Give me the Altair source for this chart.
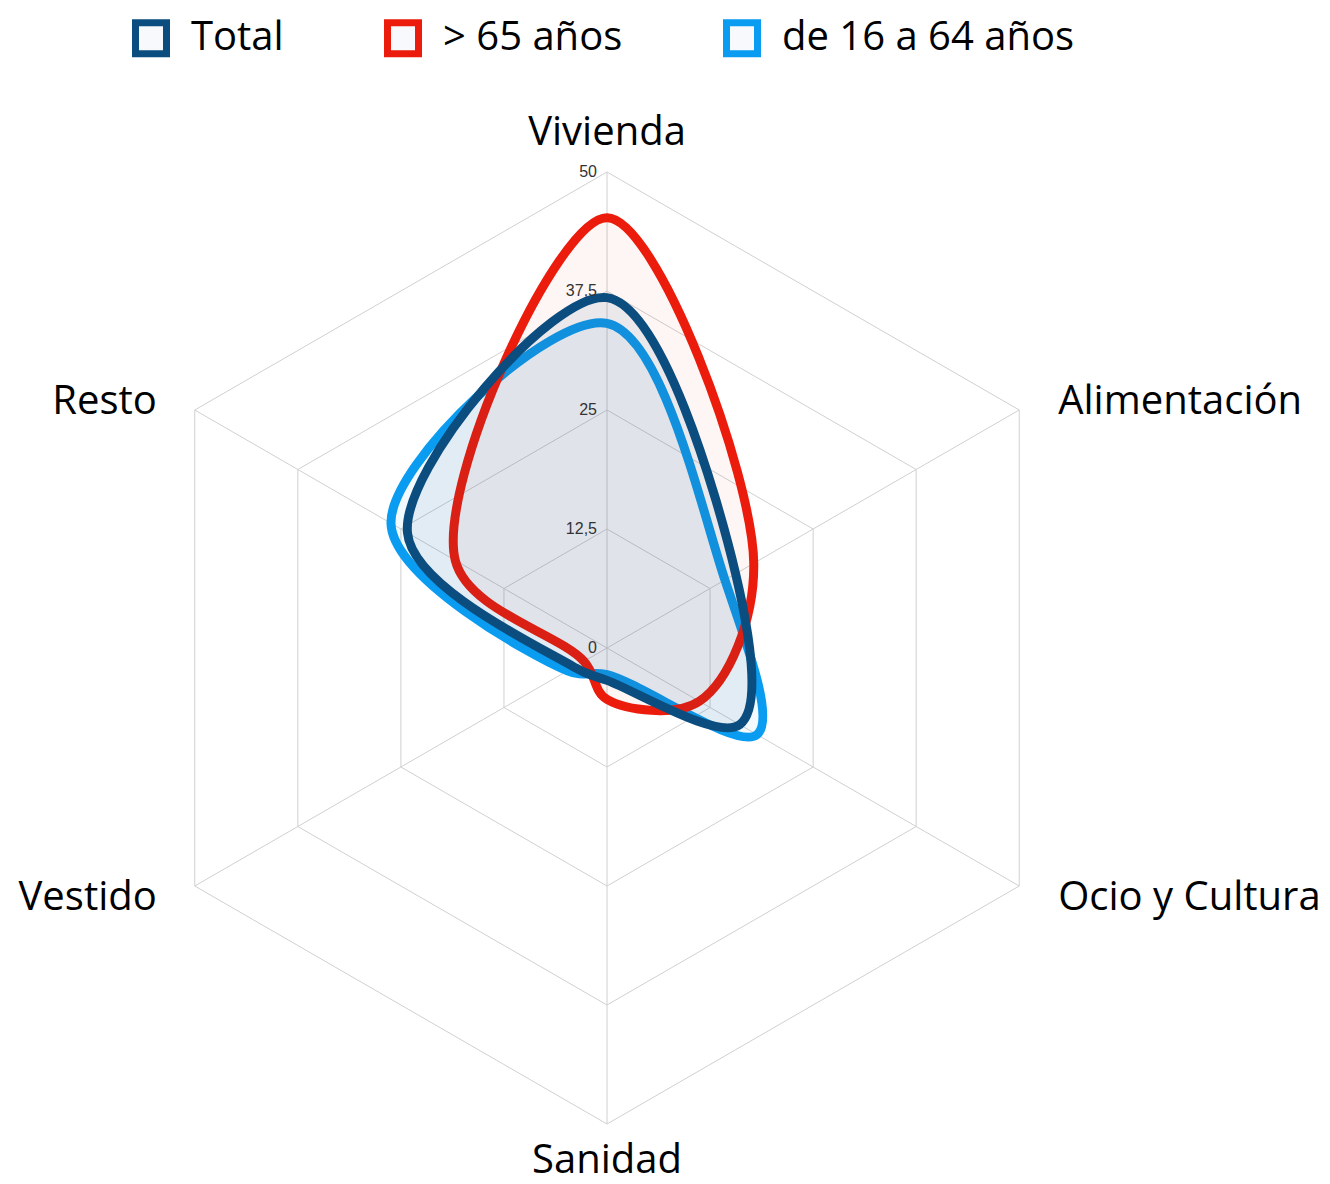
import altair as alt
import pandas as pd

# ---- data ----
categories = ["Vivienda", "Alimentación", "Ocio y Cultura", "Sanidad", "Vestido", "Resto"]
series_names = ["Total", "> 65 años", "de 16 a 64 años"]
total = [36.8, 15.6, 16.1, 3.4, 4.0, 24.2]
mayores_65 = [45.2, 17.8, 11.2, 5.4, 2.8, 18.4]
de_16_a_64 = [34.1, 14.3, 18.2, 2.8, 4.8, 26.2]
tick_values = [0, 12.5, 25, 37.5, 50]
tick_labels = ["0", "12,5", "25", "37,5", "50"]
ring_levels = [12.5, 25, 37.5, 50]

# ---- styles ----
colors = ["#0b4d7e", "#ec1c0c", "#0a9cf0"]
fill_opacity = {"Total": 0.08, "> 65 años": 0.04, "de 16 a 64 años": 0.05}
draw_order = ["de 16 a 64 años", "> 65 años", "Total"]
GRID = "#d0d0d0"
FONT = "Open Sans"
CURVE = alt.ExprRef(expr="'catmull-rom-closed'")

series_values = {"Total": total, "> 65 años": mayores_65, "de 16 a 64 años": de_16_a_64}
rows = []
for s in series_names:
    for i, c in enumerate(categories):
        rows.append({"serie": s, "cat": c, "idx": i, "value": series_values[s][i]})
df = pd.DataFrame(rows)

ring_df = pd.DataFrame([{"level": l, "idx": i} for l in ring_levels for i in range(len(categories))])
spoke_df = pd.DataFrame({"idx": list(range(len(categories))), "cat": categories})
tick_df = pd.DataFrame({"value": tick_values, "label": tick_labels})

xs = alt.Scale(domain=[-50, 50], range=[123, 1075], nice=False, zero=False)
ys = alt.Scale(domain=[-50, 50], range=[1116, 164], nice=False, zero=False)

def X(f):
    return alt.X(f, type="quantitative", scale=xs, axis=None)

def Y(f):
    return alt.Y(f, type="quantitative", scale=ys, axis=None)

rings = alt.Chart(ring_df).transform_calculate(
    px="datum.level * sin(datum.idx * PI / 3)",
    py="datum.level * cos(datum.idx * PI / 3)",
).mark_line(interpolate="linear-closed", color=GRID, strokeWidth=1).encode(
    x=X("px"), y=Y("py"), detail="level:N", order="idx:Q"
)

spokes = alt.Chart(spoke_df).transform_calculate(
    x0="0", y0="0",
    x1="50 * sin(datum.idx * PI / 3)",
    y1="50 * cos(datum.idx * PI / 3)",
).mark_rule(color=GRID, strokeWidth=1).encode(
    x=X("x0"), y=Y("y0"), x2="x1:Q", y2="y1:Q"
)

ticks = alt.Chart(tick_df).transform_calculate(x0="0").mark_text(
    align="right", baseline="middle", dx=-10, fontSize=16, font="Liberation Sans", color="#333333"
).encode(x=X("x0"), y=Y("value"), text="label:N")

legend = alt.Legend(
    orient="none", legendX=123, legendY=10, direction="horizontal", title=None,
    symbolType="square", symbolSize=961, symbolStrokeWidth=7, symbolFillColor="#f7f9fc",
    labelFontSize=40, labelFont=FONT, labelColor="#000000", labelOffset=20,
    columnPadding=89, padding=0, labelLimit=0, symbolOpacity=1,
)

series_layers = []
for s in draw_order:
    col = colors[series_names.index(s)]
    base = alt.Chart(df).transform_filter(
        alt.datum.serie == s
    ).transform_calculate(
        px="datum.value * sin(datum.idx * PI / 3)",
        py="datum.value * cos(datum.idx * PI / 3)",
    )
    fill_layer = base.mark_line(
        interpolate=CURVE, strokeWidth=0, strokeOpacity=0,
        fill=col, fillOpacity=fill_opacity[s],
    ).encode(x=X("px"), y=Y("py"), order="idx:Q")
    line_layer = base.mark_line(
        interpolate=CURVE, strokeWidth=9, strokeJoin="round", strokeCap="round",
    ).encode(
        x=X("px"), y=Y("py"),
        stroke=alt.Stroke("serie:N", scale=alt.Scale(domain=series_names, range=colors), legend=legend),
        order="idx:Q",
    )
    series_layers += [fill_layer, line_layer]

label_style = {
    "Vivienda": ("center", 0, -27),
    "Alimentación": ("left", 39, 4),
    "Ocio y Cultura": ("left", 39, 24),
    "Sanidad": ("center", 0, 49),
    "Vestido": ("right", -38, 24),
    "Resto": ("right", -38, 4),
}
label_layers = []
for i, c in enumerate(categories):
    al, dx, dy = label_style[c]
    lab = alt.Chart(spoke_df).transform_filter(alt.datum.cat == c).transform_calculate(
        px="50 * sin(datum.idx * PI / 3)",
        py="50 * cos(datum.idx * PI / 3)",
    ).mark_text(
        align=al, baseline="alphabetic", dx=dx, dy=dy, fontSize=40, font=FONT, color="#000000"
    ).encode(x=X("px"), y=Y("py"), text="cat:N")
    label_layers.append(lab)

chart = alt.layer(rings, spokes, *series_layers, ticks, *label_layers).properties(
    width=1314, height=1176, autosize=alt.AutoSizeParams(type="none"), padding=0
).configure_view(stroke=None)

chart.save("out.html", embed_options={"renderer": "svg", "actions": False})
